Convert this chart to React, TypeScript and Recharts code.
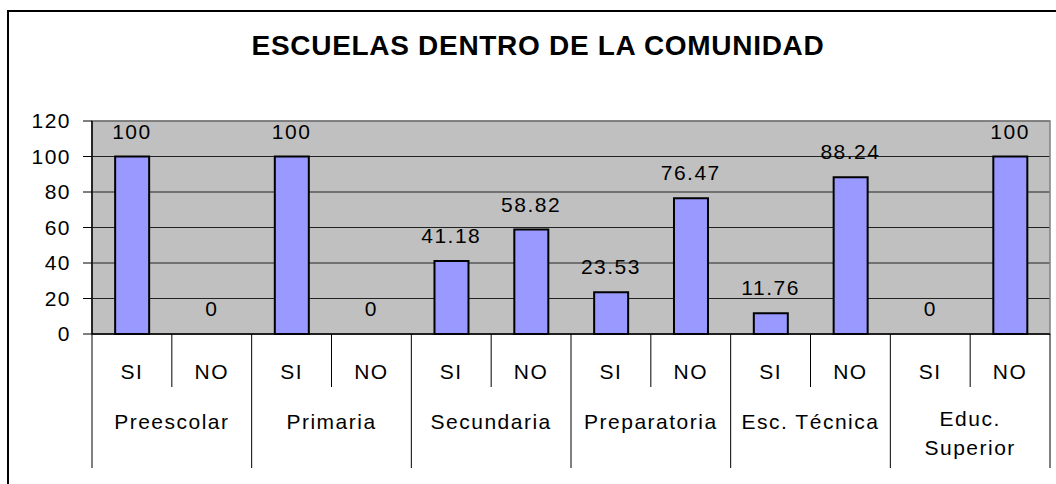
import React from 'react';
import { ComposedChart, Bar, Line, XAxis, YAxis, CartesianGrid, ReferenceArea } from 'recharts';

const groups = ['Preescolar', 'Primaria', 'Secundaria', 'Preparatoria', 'Esc. Técnica', 'Educ. Superior'];
const answers = ['SI', 'NO'];
const percentages = [100, 0, 100, 0, 41.18, 58.82, 23.53, 76.47, 11.76, 88.24, 0, 100];
const yTicks = [0, 20, 40, 60, 80, 100, 120];

const data = percentages.map((value, i) => ({
  key: `${groups[Math.floor(i / answers.length)]}-${answers[i % answers.length]}`,
  group: groups[Math.floor(i / answers.length)],
  answer: answers[i % answers.length],
  value
}));

const font = '"Liberation Sans", Arial, sans-serif';
const W = 1056;
const H = 484;
const margin = { top: 121, right: 6, left: 32, bottom: 10 };
const yAxisWidth = 60;
const band = (W - margin.left - margin.right - yAxisWidth) / data.length;

const textStyle = { fontFamily: font, fontSize: 21, letterSpacing: 1.5, fill: '#000' };

const CategoryTick = (props: any) => {
  const { x, y, payload } = props;
  const i = payload.index;
  const row = data[i];
  const first = i % answers.length === 0;
  const last = i === data.length - 1;
  const words = row.group.length > 12 ? row.group.split(' ') : [row.group];
  const gx = x + band / 2;

  return (
    <g>
      <text x={x} y={y + 45} textAnchor="middle" style={textStyle}>
        {row.answer}
      </text>
      {first && (
        <>
          <line x1={x + band / 2} x2={x + band / 2} y1={y} y2={y + 53} stroke="#000" />
          <line x1={x - band / 2} x2={x - band / 2} y1={y} y2={y + 134} stroke="#000" />
          <text x={gx} y={words.length > 1 ? y + 92 : y + 95} textAnchor="middle" style={textStyle}>
            {words.map((w, k) => (
              <tspan key={w} x={gx} dy={k === 0 ? 0 : 29}>
                {w}
              </tspan>
            ))}
          </text>
        </>
      )}
      {last && <line x1={x + band / 2} x2={x + band / 2} y1={y} y2={y + 134} stroke="#000" />}
    </g>
  );
};

// labels go on an invisible line so the zero bars get their "0" too
const ValueLabel = (props: any) => {
  const { x, y, value } = props;
  return (
    <text x={x} y={y - 18} textAnchor="middle" style={textStyle}>
      {value}
    </text>
  );
};

export default function App() {
  return (
    <div style={{ position: 'absolute', left: 0, top: 0, width: W, height: H, overflow: 'hidden', background: '#fff' }}>
      <div
        style={{
          position: 'absolute',
          left: 7,
          top: 10,
          width: W + 40,
          height: H + 40,
          border: '2px solid #000',
          boxSizing: 'border-box'
        }}
      />
      <div
        style={{
          position: 'absolute',
          left: 0,
          top: 30,
          width: 1076,
          textAlign: 'center',
          fontFamily: font,
          fontWeight: 'bold',
          fontSize: 28,
          letterSpacing: 0.7,
          lineHeight: '32px'
        }}
      >
        ESCUELAS DENTRO DE LA COMUNIDAD
      </div>
      <div style={{ position: 'absolute', left: 0, top: 0 }}>
        <ComposedChart width={W} height={H} data={data} margin={margin} barCategoryGap="29%">
          <CartesianGrid vertical={false} stroke="#222" fill="#C0C0C0" fillOpacity={1} />
          <ReferenceArea y1={0} y2={120} fill="none" stroke="#808080" strokeWidth={1.5} />
          <XAxis
            dataKey="key"
            interval={0}
            height={140}
            tickSize={0}
            tickMargin={0}
            axisLine={{ stroke: '#000', strokeWidth: 1.5 }}
            tickLine={false}
            tick={<CategoryTick />}
          />
          <YAxis
            width={yAxisWidth}
            domain={[0, 120]}
            ticks={yTicks}
            interval={0}
            tickSize={9}
            tickMargin={12}
            axisLine={{ stroke: '#000', strokeWidth: 1.5 }}
            tickLine={{ stroke: '#000' }}
            tick={textStyle}
          />
          <Bar dataKey="value" fill="#9999FF" stroke="#000" strokeWidth={2} isAnimationActive={false} />
          <Line
            dataKey="value"
            stroke="none"
            dot={false}
            activeDot={false}
            label={<ValueLabel />}
            isAnimationActive={false}
          />
        </ComposedChart>
      </div>
    </div>
  );
}
